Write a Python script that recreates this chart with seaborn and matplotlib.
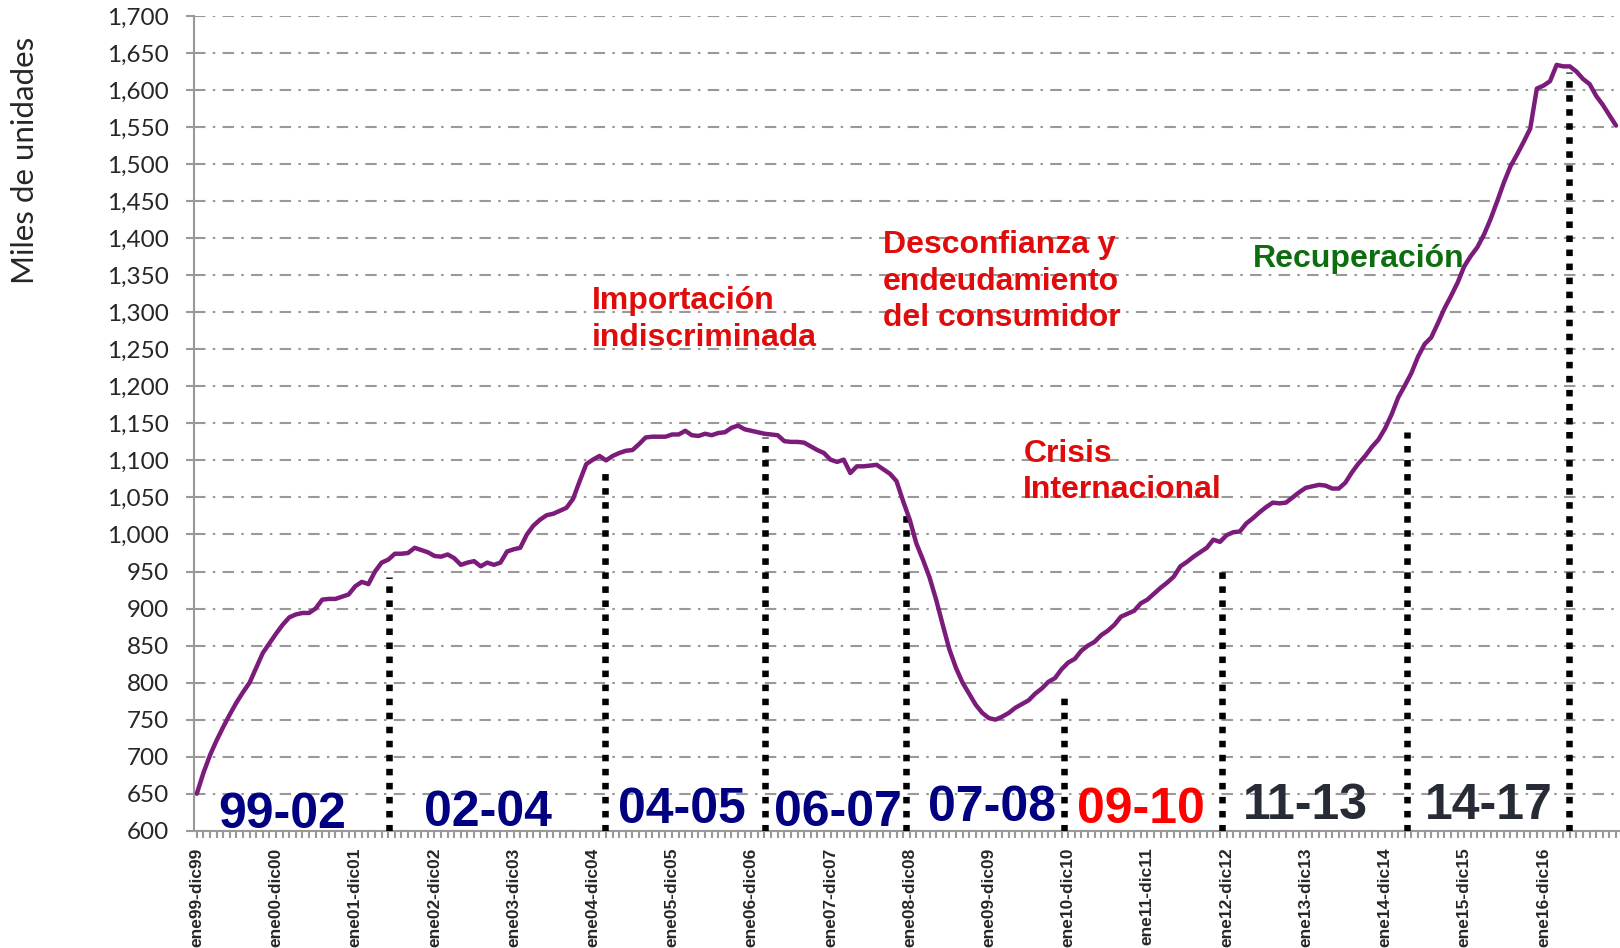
import matplotlib.pyplot as plt
import seaborn as sns
import pandas as pd

# ventas acumuladas 12 meses (miles de unidades), un valor por mes desde ene99-dic99
ventas = [
    650, 678, 702, 722, 740, 757, 773, 787, 800, 820, 840, 853,
    866, 878, 888, 892, 894, 894, 900, 912, 913, 913, 916, 919,
    930, 936, 933, 950, 962, 966, 974, 974, 975, 982, 979, 976,
    971, 970, 973, 968, 959, 962, 964, 957, 962, 959, 962, 977,
    980, 982, 1000, 1012, 1020, 1026, 1028, 1032, 1036, 1048, 1072, 1095,
    1101, 1106, 1100, 1106, 1110, 1113, 1114, 1122, 1131, 1132, 1132, 1132,
    1135, 1135, 1140, 1134, 1133, 1136, 1134, 1137, 1138, 1144, 1147, 1142,
    1140, 1138, 1136, 1135, 1134, 1126, 1125, 1125, 1124, 1119, 1114, 1110,
    1101, 1098, 1101, 1083, 1092, 1092, 1093, 1094, 1088, 1082, 1072, 1045,
    1020, 988, 966, 942, 912, 878, 845, 820, 800, 785, 770, 759,
    752, 750, 754, 759, 766, 771, 776, 785, 792, 801, 806, 818,
    827, 832, 843, 850, 855, 864, 870, 878, 889, 893, 897, 907,
    912, 920, 928, 935, 943, 957, 963, 970, 976, 982, 993, 990,
    999, 1003, 1004, 1015, 1022, 1030, 1037, 1043, 1042, 1043, 1050, 1057,
    1063, 1065, 1067, 1066, 1062, 1062, 1070, 1084, 1096, 1106, 1118, 1128,
    1143, 1162, 1185, 1201, 1218, 1240, 1257, 1266, 1285, 1305, 1322, 1340,
    1362, 1376, 1388, 1405, 1426, 1450, 1475, 1497, 1513, 1530, 1548, 1602,
    1606, 1612, 1634, 1632, 1632, 1625, 1615, 1608, 1592, 1580, 1566, 1552,
]

etiquetas = ["ene99-dic99", "ene00-dic00", "ene01-dic01", "ene02-dic02", "ene03-dic03",
             "ene04-dic04", "ene05-dic05", "ene06-dic06", "ene07-dic07", "ene08-dic08",
             "ene09-dic09", "ene10-dic10", "ene11-dic11", "ene12-dic12", "ene13-dic13",
             "ene14-dic14", "ene15-dic15", "ene16-dic16"]

# cortes entre periodos (mes) y altura hasta donde llega la linea punteada
cortes_mes = [29.1, 61.8, 86.1, 107.5, 131.4, 155.3, 183.4, 207.9]
cortes_alto = [943, 1088, 1132, 1033, 781, 959, 1138, 1625]

periodos = ["99-02", "02-04", "04-05", "06-07", "07-08", "09-10", "11-13", "14-17"]
periodos_color = ["#000080", "#000080", "#000080", "#000080", "#000080",
                  "#ff0000", "#262b35", "#262b35"]

notas = [["Importación", "indiscriminada"],
         ["Desconfianza y", "endeudamiento", "del consumidor"],
         ["Crisis", "Internacional"],
         ["Recuperación"]]
notas_color = ["#e00c0c", "#e00c0c", "#e00c0c", "#0d6e0d"]

df = pd.DataFrame({"mes": range(len(ventas)), "ventas": ventas})

sns.set_theme(style="white")
plt.rcParams["font.family"] = ["Lato", "DejaVu Sans"]

fig = plt.figure(figsize=(16.2, 9.48), dpi=100)
ax = fig.add_axes([193.5 / 1620, 0.1237, 1 - 193.5 / 1620, 0.8594])

gris = "#999999"
ax.set_axisbelow(True)
ax.yaxis.grid(True, color=gris, linewidth=1.5, linestyle=(0, (5.5, 3.5, 1.2, 3.5)))
ax.xaxis.grid(False)

sns.lineplot(data=df, x="mes", y="ventas", ax=ax, color="#7b1c7b", linewidth=3.2, zorder=4)

# lineas punteadas de los periodos
ax.vlines(cortes_mes, 600, cortes_alto, colors="black", linewidth=4.7,
          linestyles=(0, (1.0, 1.15)), zorder=3)

ax.set_xlim(-0.5, 215.6)
ax.set_ylim(600, 1700)
ax.set_yticks(range(600, 1701, 50))
ax.set_yticklabels([f"{v:,}" for v in range(600, 1701, 50)])
ax.set_xticks(range(0, 12 * len(etiquetas), 12))
ax.set_xticklabels(etiquetas, rotation=90, fontweight="bold", fontsize=12.5,
                   family=["Liberation Sans", "DejaVu Sans"])
ax.set_xticks(range(len(ventas)), minor=True)
ax.tick_params(axis="x", which="both", length=5, width=1.5, color=gris, pad=7,
               bottom=True, direction="out")
ax.tick_params(axis="y", length=5.5, width=1.5, color=gris, pad=12, labelsize=17.5,
               left=True, direction="out")
ax.set_xlabel("")
ax.set_ylabel("")
for s in ["top", "right"]:
    ax.spines[s].set_visible(False)
for s in ["left", "bottom"]:
    ax.spines[s].set_color(gris)
    ax.spines[s].set_linewidth(1.5)

fig.text(25 / 1620, 1 - 160 / 948, "Miles de unidades", rotation=90,
         ha="center", va="center", fontsize=22.5)

# etiquetas de los periodos
pos_periodos = [(13.0, 603.6), (44.1, 606), (73.5, 610.4), (97.2, 607),
                (120.5, 613.1), (143.0, 611), (168.0, 615.8), (195.8, 615.8)]
for txt, col, (px, py) in zip(periodos, periodos_color, pos_periodos):
    ax.text(px, py, txt, ha="center", va="baseline", color=col, fontsize=36,
            fontweight="bold", family=["Liberation Sans", "DejaVu Sans"], zorder=5)

# notas explicativas
pos_notas = [(59.8, 1304), (103.9, 1380), (125.2, 1098), (160.0, 1361.5)]
for lineas, col, (nx, ny) in zip(notas, notas_color, pos_notas):
    for i, linea in enumerate(lineas):
        ax.annotate(linea, xy=(nx, ny), xytext=(0, -26.3 * i), textcoords="offset points",
                    ha="left", va="baseline", color=col, fontsize=23, fontweight="bold",
                    family=["Liberation Sans", "DejaVu Sans"], zorder=5)

fig.savefig("out.png", dpi=100)
